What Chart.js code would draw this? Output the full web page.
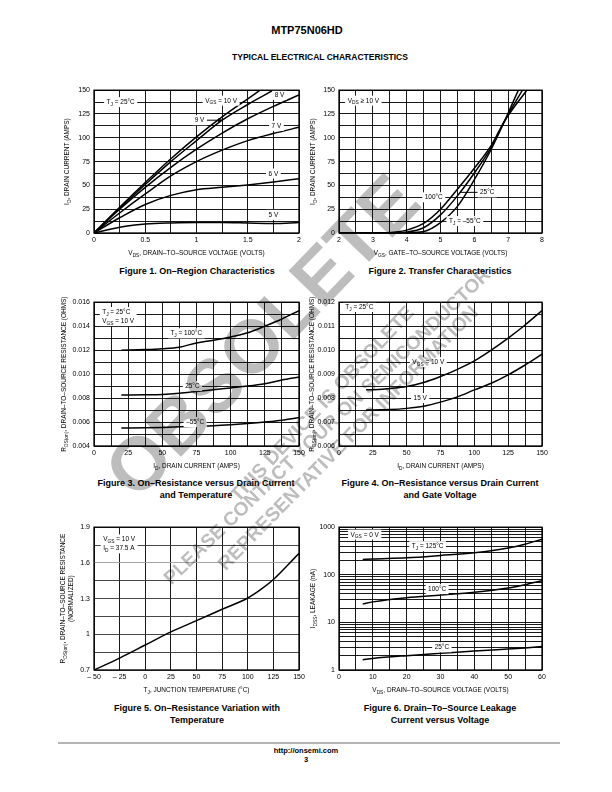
<!DOCTYPE html>
<html><head><meta charset="utf-8">
<script src="https://cdn.jsdelivr.net/npm/chart.js@4.4.1/dist/chart.umd.min.js"></script>
<style>
html,body{margin:0;padding:0;background:#fff;}
body{width:612px;height:792px;position:relative;overflow:hidden;font-family:'Liberation Sans',Arial,Helvetica,sans-serif;color:#000;}
canvas{position:absolute;}
.h{position:absolute;white-space:nowrap;font-weight:bold;transform:translate(-50%,-50%);line-height:1;}
.cap{position:absolute;font-weight:bold;font-size:9px;line-height:11.5px;text-align:center;white-space:nowrap;transform:translateX(-50%);}
.wm{position:absolute;left:0;top:0;width:612px;height:792px;pointer-events:none;mix-blend-mode:multiply;z-index:5;}
.wm div{position:absolute;font-weight:bold;color:#bdbdbd;white-space:nowrap;line-height:1;font-family:'Liberation Sans',Arial,sans-serif;}
</style></head><body>
<div class="h" style="left:307px;top:30px;font-size:11px;">MTP75N06HD</div>
<div class="h" style="left:320px;top:57px;font-size:8.5px;">TYPICAL ELECTRICAL CHARACTERISTICS</div>

<div class="cap" style="left:197px;top:266px;">Figure 1. On–Region Characteristics</div>
<div class="cap" style="left:440px;top:266px;">Figure 2. Transfer Characteristics</div>
<div class="cap" style="left:196px;top:478px;">Figure 3. On–Resistance versus Drain Current<br>and Temperature</div>
<div class="cap" style="left:440px;top:478px;">Figure 4. On–Resistance versus Drain Current<br>and Gate Voltage</div>
<div class="cap" style="left:197px;top:703px;">Figure 5. On–Resistance Variation with<br>Temperature</div>
<div class="cap" style="left:440px;top:703px;">Figure 6. Drain–To–Source Leakage<br>Current versus Voltage</div>

<div style="position:absolute;left:58px;top:742px;width:502px;height:2px;background:#b4b4b4;"></div>
<div class="h" style="left:306px;top:751px;font-size:7.5px;">http://onsemi.com</div>
<div class="h" style="left:306px;top:760px;font-size:7.5px;">3</div>

<div class="wm">
  <div style="left:262px;top:336px;font-size:75px;transform:translate(-50%,-50%) rotate(-46deg);">OBSOLETE</div>
  <div style="left:322px;top:404px;font-size:19.5px;transform:translate(-50%,-50%) rotate(-47deg);">THIS DEVICE IS OBSOLETE</div>
  <div style="left:327px;top:426px;font-size:19.2px;transform:translate(-50%,-50%) rotate(-44deg);">PLEASE CONTACT YOUR ON SEMICONDUCTOR</div>
  <div style="left:348px;top:438px;font-size:19.5px;transform:translate(-50%,-50%) rotate(-45.5deg);">REPRESENTATIVE FOR INFORMATION</div>
</div>

<script>
// ---------------- DATA ----------------
// Figure 1: On-Region Characteristics (ID vs VDS), TJ = 25°C
const f1XTicks = [0, 0.5, 1, 1.5, 2];
const f1YTicks = [0, 25, 50, 75, 100, 125, 150];
const f1Vgs10X = [0, 0.25, 0.5, 0.75, 1, 1.25, 1.5, 1.62];
const f1Vgs10Y = [0, 27, 53, 78, 101, 122, 141, 150];
const f1Vgs9X  = [0, 0.25, 0.5, 0.75, 1, 1.25, 1.5, 1.75];
const f1Vgs9Y  = [0, 26, 51, 75, 97, 118.5, 135, 150];
const f1Vgs8X  = [0, 0.25, 0.5, 0.75, 1, 1.25, 1.5, 1.75, 2];
const f1Vgs8Y  = [0, 25, 48, 69, 88, 105, 120, 133, 145];
const f1Vgs7X  = [0, 0.25, 0.5, 0.75, 1, 1.25, 1.5, 1.75, 2];
const f1Vgs7Y  = [0, 21, 41, 60, 75, 87, 97, 104.5, 111];
const f1Vgs6X  = [0, 0.25, 0.5, 0.75, 1, 1.25, 1.5, 1.75, 2];
const f1Vgs6Y  = [0, 16, 30, 39.5, 45.5, 48, 50.5, 53.5, 57];
const f1Vgs5X  = [0, 0.25, 0.4, 0.5, 0.75, 1, 1.25, 1.5, 1.75, 2];
const f1Vgs5Y  = [0, 6, 8.5, 9.5, 10.5, 11, 11, 10.5, 10, 11];

// Figure 2: Transfer Characteristics (ID vs VGS), VDS >= 10 V
const f2XTicks = [2, 3, 4, 5, 6, 7, 8];
const f2YTicks = [0, 25, 50, 75, 100, 125, 150];
const f2M55X  = [2, 3, 4, 4.5, 5, 5.5, 6, 6.5, 6.9, 7.3];
const f2M55Y  = [0, 0, 0.2, 1.5, 11, 28, 56, 88, 118, 150];
const f2T25X  = [2, 3, 3.5, 4, 4.5, 5, 5.5, 6, 6.5, 6.9, 7.42];
const f2T25Y  = [0, 0, 0.2, 1, 5.5, 19, 39, 63, 90, 118, 150];
const f2T100X = [2, 3, 3.5, 4, 4.5, 5, 5.5, 6, 6.5, 6.9, 7.55];
const f2T100Y = [0, 0, 0.5, 3, 10, 25, 46, 68, 92, 118, 150];

// Figure 3: RDS(on) vs ID and temperature, VGS = 10 V
const f3XTicks = [0, 25, 50, 75, 100, 125, 150];
const f3YTicks = [0.004, 0.006, 0.008, 0.010, 0.012, 0.014, 0.016];
const f3Id   = [20, 37.5, 50, 62.5, 75, 87.5, 100, 112.5, 125, 137.5, 150];
const f3T100 = [0.0120, 0.01205, 0.01212, 0.01225, 0.0126, 0.01283, 0.0131, 0.01345, 0.0140, 0.0146, 0.0153];
const f3T25  = [0.00825, 0.00827, 0.0083, 0.0084, 0.00855, 0.0087, 0.00885, 0.0090, 0.0092, 0.0095, 0.00975];
const f3M55  = [0.0055, 0.00552, 0.00555, 0.0056, 0.00565, 0.0057, 0.00578, 0.00588, 0.0060, 0.00615, 0.00638];

// Figure 4: RDS(on) vs ID and gate voltage, TJ = 25°C
const f4XTicks = [0, 25, 50, 75, 100, 125, 150];
const f4YTicks = [0.006, 0.007, 0.008, 0.009, 0.010, 0.011, 0.012];
const f4Id    = [20, 25, 37.5, 50, 62.5, 75, 87.5, 100, 112.5, 125, 137.5, 150];
const f4Vgs10 = [0.00835, 0.00835, 0.0084, 0.00848, 0.00865, 0.0089, 0.0092, 0.00955, 0.0100, 0.0105, 0.01105, 0.01165];
const f4Vgs15 = [0.0075, 0.0075, 0.00752, 0.00757, 0.00766, 0.00783, 0.00805, 0.00834, 0.00862, 0.00897, 0.00938, 0.00983];

// Figure 5: normalized RDS(on) vs temperature
const f5XTicks = [-50, -25, 0, 25, 50, 75, 100, 125, 150];
const f5YTicks = [0.7, 1, 1.3, 1.6, 1.9];
const f5Temp = [-50, -25, 0, 25, 50, 75, 100, 112.5, 125, 150];
const f5Rds  = [0.70, 0.80, 0.91, 1.02, 1.115, 1.21, 1.305, 1.375, 1.46, 1.68];

// Figure 6: IDSS leakage vs VDS, VGS = 0 V
const f6XTicks = [0, 10, 20, 30, 40, 50, 60];
const f6YTicks = [1, 10, 100, 1000];
const f6Vds  = [7, 10, 20, 30, 40, 50, 55, 60];
const f6T125 = [210, 215, 228, 255, 290, 365, 440, 560];
const f6T100 = [24.5, 27, 33, 37.5, 43, 53, 62, 75];
const f6T25  = [1.65, 1.75, 2.0, 2.24, 2.52, 2.75, 2.9, 3.1];

// ---------------- RENDER HELPERS ----------------
const FAM = "'Liberation Sans', Arial, Helvetica, sans-serif";
const HS = 0.86;            // horizontal condensing for narrow type
const YW = 48, PT = 8, PR = 14, XH = 30;
const FS = 7.5, TFS = 7;

function gridArr(min, max, step) { const a = []; for (let v = min; v <= max + step * 1e-6; v += step) a.push(Math.round(v * 1e7) / 1e7); return a; }
function logGridArr(min, max) { const a = []; for (let d = min; d < max; d *= 10) { for (let k = 1; k < 10; k++) a.push(d * k); } a.push(max); return a; }
function hasLabel(arr, v) { return arr.some(l => Math.abs(l - v) < 1e-9 * Math.max(1, Math.abs(l))); }
function pts(xs, ys) { return xs.map((x, i) => ({ x: x, y: ys[i] })); }

function parseRich(s) {
  const out = []; const re = /_\{([^}]*)\}/g; let last = 0, m;
  while ((m = re.exec(s))) { if (m.index > last) out.push([s.slice(last, m.index), false]); out.push([m[1], true]); last = re.lastIndex; }
  if (last < s.length) out.push([s.slice(last), false]);
  return out;
}
function richWidth(ctx, parts, size) { let w = 0; for (const [t, sub] of parts) { ctx.font = (sub ? size * 0.75 : size) + 'px ' + FAM; w += ctx.measureText(t).width; } return w * HS; }
function drawRich(ctx, parts, x, y, size) {
  ctx.save(); ctx.translate(x, y); ctx.scale(HS, 1);
  let cx = 0; ctx.textBaseline = 'middle'; ctx.textAlign = 'left';
  for (const [t, sub] of parts) { ctx.font = (sub ? size * 0.75 : size) + 'px ' + FAM; ctx.fillText(t, cx, sub ? size * 0.3 : 0); cx += ctx.measureText(t).width; }
  ctx.restore();
}

function makeChart(spec) {
  const b = spec.box;
  const cv = document.createElement('canvas');
  const W = YW + (b.r - b.l) + PR, H = PT + (b.b - b.t) + XH;
  cv.width = W; cv.height = H;
  cv.style.left = (b.l - YW) + 'px'; cv.style.top = (b.t - PT) + 'px';
  cv.style.width = W + 'px'; cv.style.height = H + 'px';
  document.body.appendChild(cv);

  const deco = {
    id: 'deco',
    afterDatasetsDraw(chart) {
      const ctx = chart.ctx, xs = chart.scales.x, ys = chart.scales.y, ca = chart.chartArea;
      ctx.save();
      ctx.fillStyle = '#000'; ctx.strokeStyle = '#000';
      for (const L of (spec.leaders || [])) {
        const x1 = xs.getPixelForValue(L.x1), y1 = ys.getPixelForValue(L.y1), x2 = xs.getPixelForValue(L.x2), y2 = ys.getPixelForValue(L.y2);
        ctx.lineWidth = 1; ctx.beginPath(); ctx.moveTo(x1, y1); ctx.lineTo(x2, y2); ctx.stroke();
        if (L.arrow) {
          const ang = Math.atan2(y2 - y1, x2 - x1);
          ctx.beginPath(); ctx.moveTo(x2, y2);
          ctx.lineTo(x2 - 5 * Math.cos(ang - 0.4), y2 - 5 * Math.sin(ang - 0.4));
          ctx.lineTo(x2 - 5 * Math.cos(ang + 0.4), y2 - 5 * Math.sin(ang + 0.4));
          ctx.closePath(); ctx.fill();
        }
      }
      for (const a of (spec.labels || [])) {
        const lines = a.text.map(parseRich);
        const lh = FS * 1.2;
        const ws = lines.map(p => richWidth(ctx, p, FS));
        const w = Math.max.apply(null, ws);
        const px = xs.getPixelForValue(a.x), py = ys.getPixelForValue(a.y);
        const h = lh * lines.length;
        const left = a.align === 'left' ? px : px - w / 2;
        const top = py - h / 2;
        ctx.fillStyle = '#fff'; ctx.fillRect(left - 2.5, top - 0.5, w + 5, h + 1);
        ctx.fillStyle = '#000';
        lines.forEach((p, i) => drawRich(ctx, p, left, top + lh * (i + 0.5), FS));
      }
      ctx.lineWidth = 1.3; ctx.strokeStyle = '#000';
      ctx.strokeRect(ca.left, ca.top, ca.right - ca.left, ca.bottom - ca.top);
      // axis titles
      ctx.fillStyle = '#000';
      const xp = parseRich(spec.xTitle);
      const xw = richWidth(ctx, xp, FS);
      drawRich(ctx, xp, (ca.left + ca.right) / 2 - xw / 2, ca.bottom + 20, FS);
      spec.yTitle.forEach((t, i) => {
        const p = parseRich(t); const w = richWidth(ctx, p, FS);
        ctx.save(); ctx.translate(ca.left - spec.yOff[i], (ca.top + ca.bottom) / 2); ctx.rotate(-Math.PI / 2);
        drawRich(ctx, p, -w / 2, 0, FS); ctx.restore();
      });
      ctx.restore();
    }
  };

  function scaleCfg(ax, isY) {
    const grid = ax.type === 'logarithmic' ? logGridArr(ax.min, ax.max) : gridArr(ax.min, ax.max, ax.step);
    return {
      type: ax.type || 'linear', min: ax.min, max: ax.max, bounds: 'data',
      afterBuildTicks: s => { s.ticks = grid.map(v => ({ value: v })); },
      afterFit: s => { if (isY) s.width = YW; else s.height = XH; },
      grid: { color: ax.gridColor || '#000', lineWidth: 0.9, drawTicks: false },
      border: { display: false },
      ticks: {
        autoSkip: false, maxRotation: 0, minRotation: 0, padding: isY ? 4 : 3, color: '#000',
        font: { family: FAM, size: TFS },
        callback: v => hasLabel(ax.labels, v) ? ax.fmt(v) : ''
      }
    };
  }

  return new Chart(cv, {
    type: 'line',
    data: { datasets: spec.series.map(s => ({ data: pts(s.xs, s.ys) })) },
    options: {
      animation: false, responsive: false, events: [], devicePixelRatio: 1,
      layout: { padding: { top: PT, right: PR, left: 0, bottom: 0 } },
      plugins: { legend: { display: false }, tooltip: { enabled: false }, title: { display: false } },
      elements: {
        point: { radius: 0 },
        line: { borderColor: '#000', borderWidth: 1.5, tension: 0.4, cubicInterpolationMode: 'monotone', fill: false }
      },
      scales: { x: scaleCfg(spec.x, false), y: scaleCfg(spec.y, true) }
    },
    plugins: [deco]
  });
}

const fmtPlain = v => String(v);
const fmt3 = v => v.toFixed(3);

// Figure 1
makeChart({
  box: { l: 94, t: 90, r: 299, b: 233 },
  x: { min: 0, max: 2, step: 0.25, labels: f1XTicks, fmt: fmtPlain },
  y: { min: 0, max: 150, step: 12.5, labels: f1YTicks, fmt: fmtPlain },
  series: [
    { xs: f1Vgs10X, ys: f1Vgs10Y }, { xs: f1Vgs9X, ys: f1Vgs9Y }, { xs: f1Vgs8X, ys: f1Vgs8Y },
    { xs: f1Vgs7X, ys: f1Vgs7Y }, { xs: f1Vgs6X, ys: f1Vgs6Y }, { xs: f1Vgs5X, ys: f1Vgs5Y }
  ],
  labels: [
    { x: 0.26, y: 137.5, text: ['T_{J} = 25°C'] },
    { x: 1.24, y: 139, text: ['V_{GS} = 10 V'] },
    { x: 1.81, y: 145, text: ['8 V'] },
    { x: 1.03, y: 118.5, text: ['9 V'] },
    { x: 1.78, y: 112.5, text: ['7 V'] },
    { x: 1.75, y: 62.5, text: ['6 V'] },
    { x: 1.75, y: 19, text: ['5 V'] }
  ],
  leaders: [{ x1: 1.09, y1: 118.5, x2: 1.255, y2: 118.5, arrow: true }],
  xTitle: 'V_{DS}, DRAIN–TO–SOURCE VOLTAGE (VOLTS)',
  yTitle: ['I_{D}, DRAIN CURRENT (AMPS)'], yOff: [27]
});

// Figure 2
makeChart({
  box: { l: 339, t: 90, r: 542, b: 233 },
  x: { min: 2, max: 8, step: 0.5, labels: f2XTicks, fmt: fmtPlain },
  y: { min: 0, max: 150, step: 12.5, labels: f2YTicks, fmt: fmtPlain },
  series: [{ xs: f2M55X, ys: f2M55Y }, { xs: f2T25X, ys: f2T25Y }, { xs: f2T100X, ys: f2T100Y }],
  labels: [
    { x: 2.72, y: 139, text: ['V_{DS} ≥ 10 V'] },
    { x: 4.8, y: 37.5, text: ['100°C'] },
    { x: 6.38, y: 42.7, text: ['25°C'] },
    { x: 5.72, y: 12.5, text: ['T_{J} = –55°C'] }
  ],
  leaders: [{ x1: 5.6, y1: 42.7, x2: 6.12, y2: 42.7 }],
  xTitle: 'V_{GS}, GATE–TO–SOURCE VOLTAGE (VOLTS)',
  yTitle: ['I_{D}, DRAIN CURRENT (AMPS)'], yOff: [26]
});

// Figure 3
makeChart({
  box: { l: 94, t: 302, r: 299, b: 446 },
  x: { min: 0, max: 150, step: 12.5, labels: f3XTicks, fmt: fmtPlain },
  y: { min: 0.004, max: 0.016, step: 0.001, labels: f3YTicks, fmt: fmt3 },
  series: [{ xs: f3Id, ys: f3T100 }, { xs: f3Id, ys: f3T25 }, { xs: f3Id, ys: f3M55 }],
  labels: [
    { x: 6, y: 0.0148, align: 'left', text: ['T_{J} = 25°C', 'V_{GS} = 10 V'] },
    { x: 67.5, y: 0.0134, text: ['T_{J} = 100°C'] },
    { x: 72, y: 0.009, text: ['25°C'] },
    { x: 74, y: 0.006, text: ['–55°C'] }
  ],
  xTitle: 'I_{D}, DRAIN CURRENT (AMPS)',
  yTitle: ['R_{DS(on)}, DRAIN–TO–SOURCE RESISTANCE (OHMS)'], yOff: [30]
});

// Figure 4
makeChart({
  box: { l: 339, t: 302, r: 542, b: 446 },
  x: { min: 0, max: 150, step: 12.5, labels: f4XTicks, fmt: fmtPlain },
  y: { min: 0.006, max: 0.012, step: 0.0005, labels: f4YTicks, fmt: fmt3 },
  series: [{ xs: f4Id, ys: f4Vgs10 }, { xs: f4Id, ys: f4Vgs15 }],
  labels: [
    { x: 15, y: 0.0118, text: ['T_{J} = 25°C'] },
    { x: 66, y: 0.0095, text: ['V_{GS} = 10 V'] },
    { x: 60, y: 0.008, text: ['15 V'] }
  ],
  xTitle: 'I_{D}, DRAIN CURRENT (AMPS)',
  yTitle: ['R_{DS(on)}, DRAIN–TO–SOURCE RESISTANCE (OHMS)'], yOff: [27]
});

// Figure 5
makeChart({
  box: { l: 94, t: 527, r: 299, b: 670 },
  x: { min: -50, max: 150, step: 25, labels: f5XTicks, fmt: v => v < 0 ? '– ' + Math.abs(v) : String(v) },
  y: { min: 0.7, max: 1.9, step: 0.15, labels: f5YTicks, fmt: fmtPlain,
       gridColor: c => (c.tick && Math.abs(c.tick.value - 1.6) < 1e-6) ? '#9c9c9c' : '#333' },
  series: [{ xs: f5Temp, ys: f5Rds }],
  labels: [
    { x: -41, y: 1.76, align: 'left', text: ['V_{GS} = 10 V', 'I_{D} = 37.5 A'] }
  ],
  xTitle: 'T_{J}, JUNCTION TEMPERATURE (°C)',
  yTitle: ['R_{DS(on)}, DRAIN–TO–SOURCE RESISTANCE', '(NORMALIZED)'], yOff: [31, 23]
});

// Figure 6
makeChart({
  box: { l: 339, t: 527, r: 542, b: 670 },
  x: { min: 0, max: 60, step: 5, labels: f6XTicks, fmt: fmtPlain },
  y: { type: 'logarithmic', min: 1, max: 1000, labels: f6YTicks, fmt: fmtPlain },
  series: [{ xs: f6Vds, ys: f6T125 }, { xs: f6Vds, ys: f6T100 }, { xs: f6Vds, ys: f6T25 }],
  labels: [
    { x: 7.6, y: 700, text: ['V_{GS} = 0 V'] },
    { x: 26.2, y: 400, text: ['T_{J} = 125°C'] },
    { x: 29, y: 50, text: ['100°C'] },
    { x: 30.4, y: 3, text: ['25°C'] }
  ],
  xTitle: 'V_{DS}, DRAIN–TO–SOURCE VOLTAGE (VOLTS)',
  yTitle: ['I_{DSS}, LEAKAGE (nA)'], yOff: [26]
});
</script>
</body></html>
